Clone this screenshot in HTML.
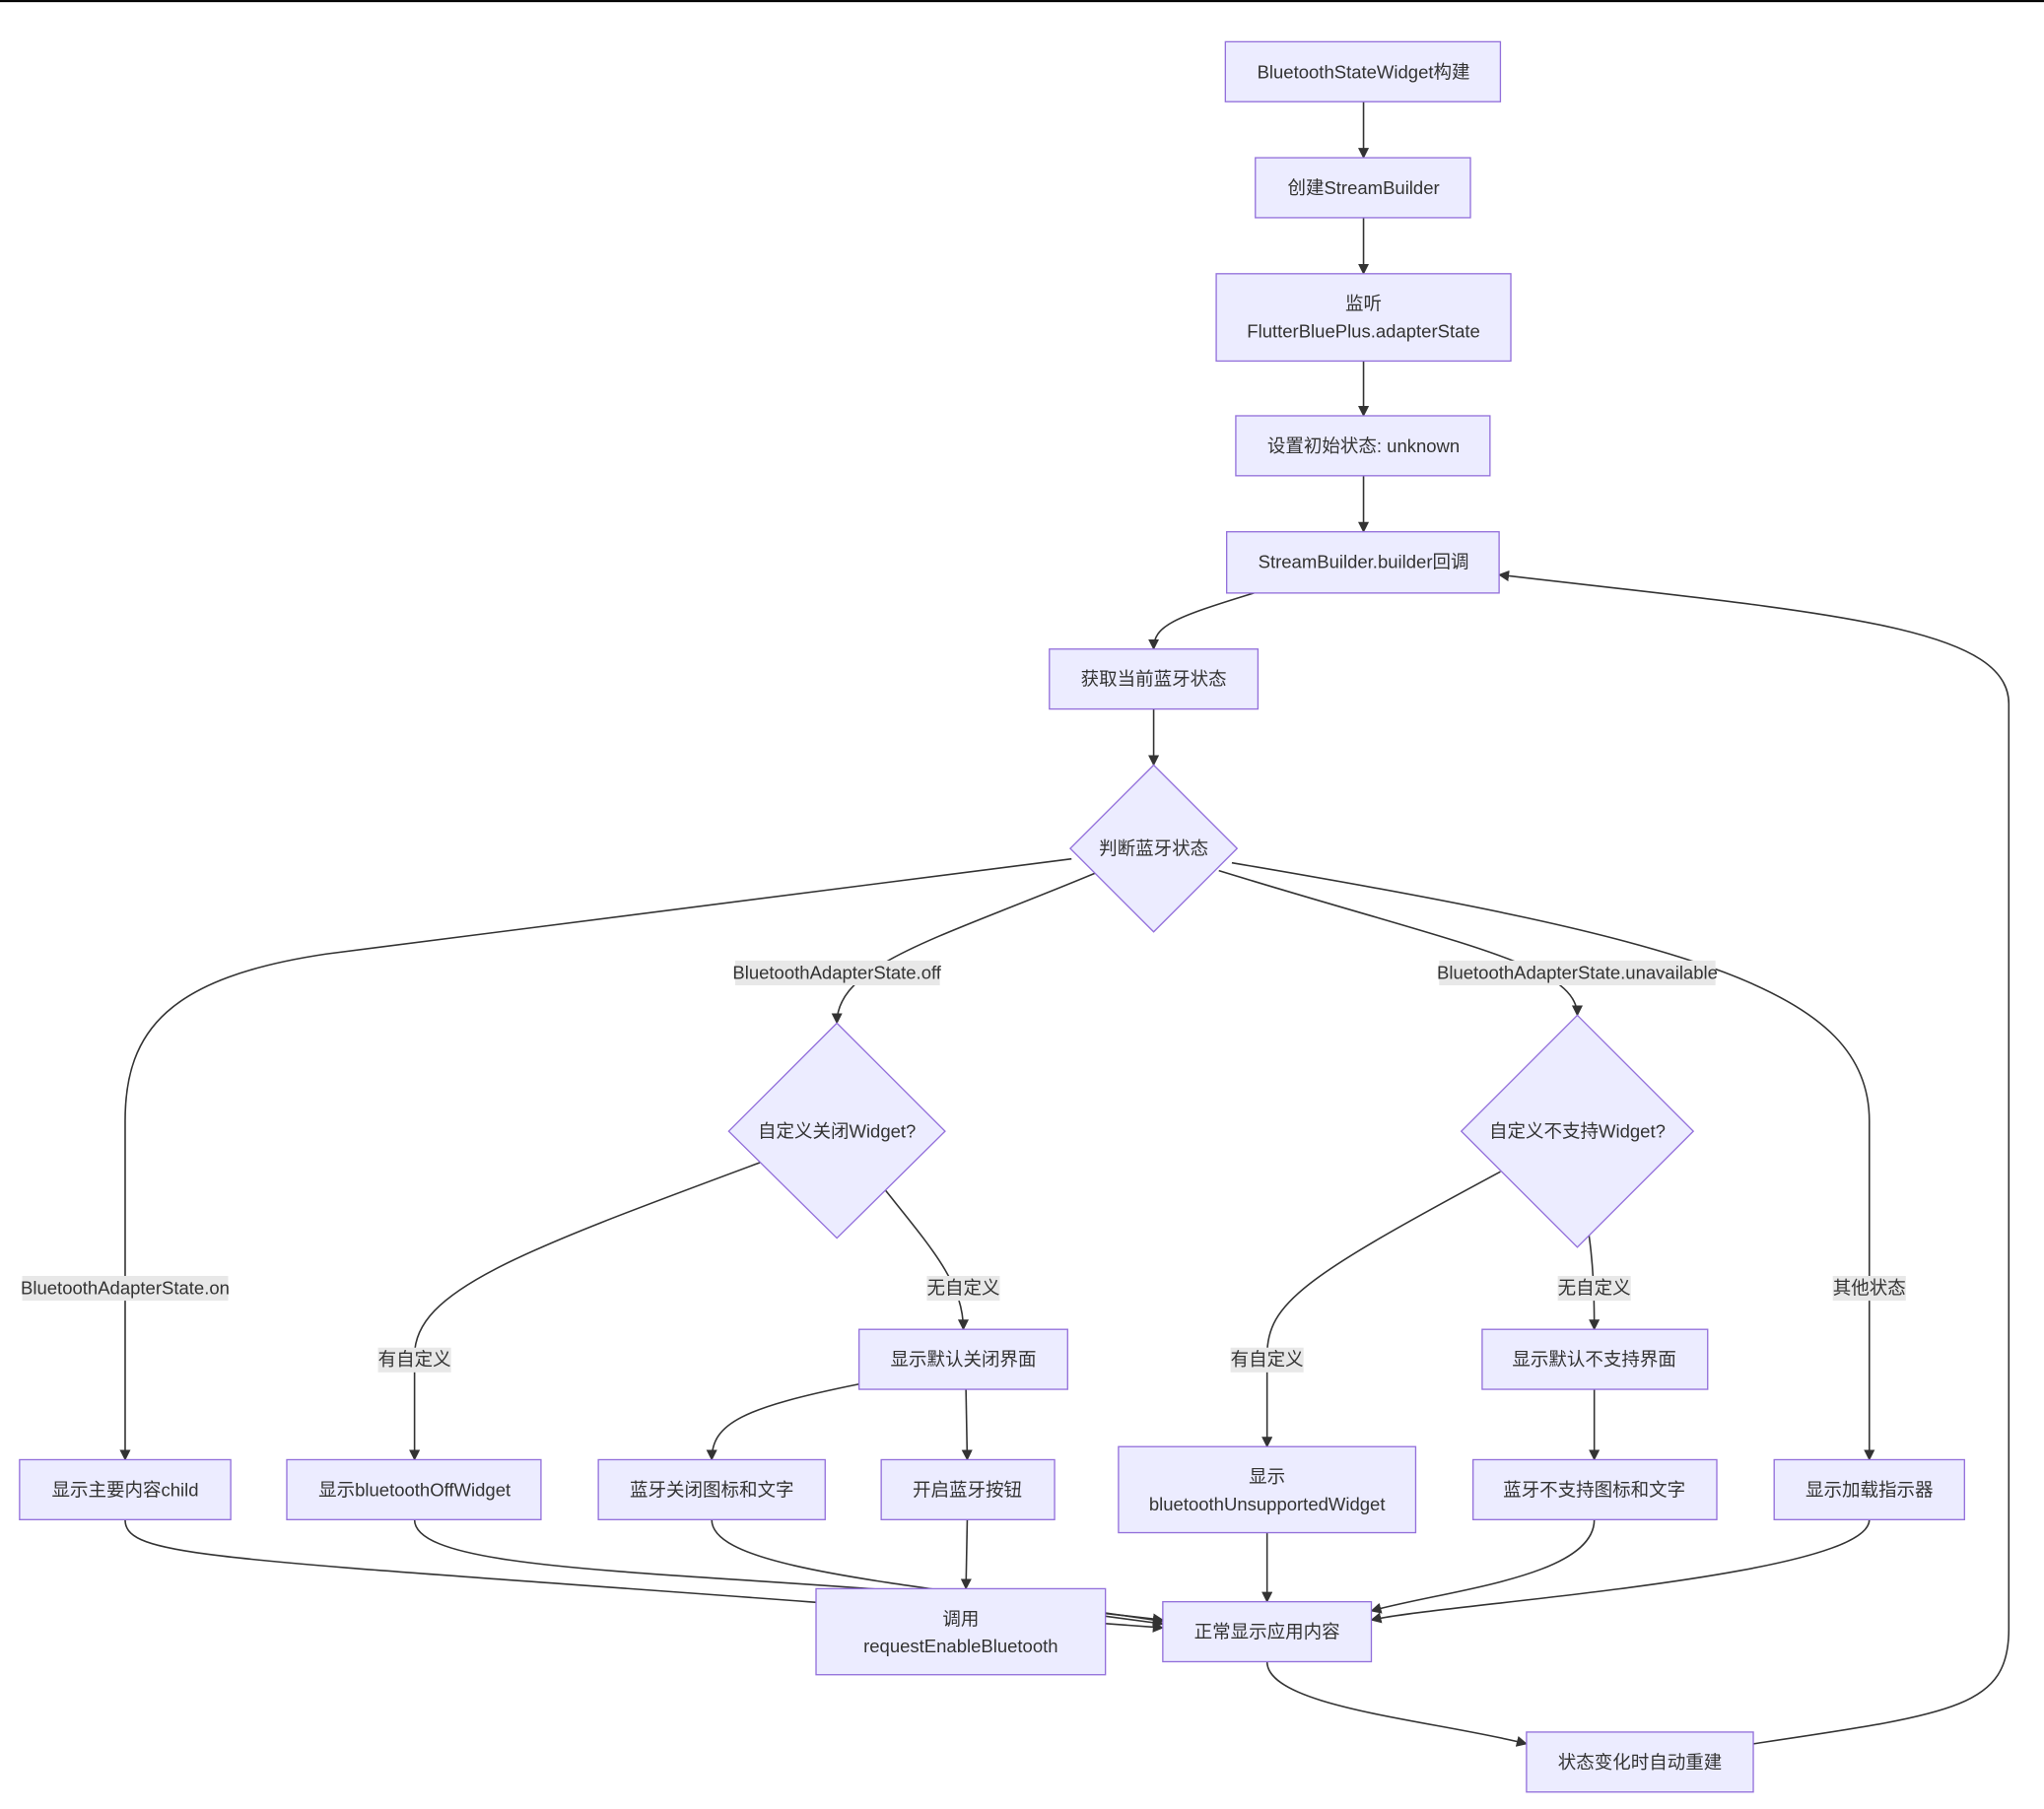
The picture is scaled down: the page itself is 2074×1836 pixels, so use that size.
<!DOCTYPE html>
<html><head><meta charset="utf-8"><style>
html,body{margin:0;padding:0;background:#fff;}
svg{display:block;}
text{font-family:"Liberation Sans","Noto Sans CJK SC",sans-serif;font-size:14px;fill:#333;text-anchor:middle;dominant-baseline:central;}
.n{fill:#ECECFF;stroke:#9370DB;stroke-width:1;}
.e{fill:none;stroke:#333;stroke-width:1.2;}
.lb{fill:#e8e8e8;}
</style></head><body>
<svg width="2074" height="1836" viewBox="0 0 1568 1388" xmlns="http://www.w3.org/2000/svg">
<defs><marker id="a" viewBox="0 0 10 10" refX="9" refY="5" markerWidth="7" markerHeight="7" orient="auto"><path d="M0,0L10,5L0,10z" fill="#333"/></marker></defs>
<rect x="0" y="0" width="1568" height="1.6" fill="#000"/>
<g class="e" marker-end="url(#a)">
<path class="e" d="M1046,78L1046,121" marker-end="url(#a)"/>
<path class="e" d="M1046,167L1046,210" marker-end="url(#a)"/>
<path class="e" d="M1046,277L1046,319" marker-end="url(#a)"/>
<path class="e" d="M1046,365L1046,408" marker-end="url(#a)"/>
<path class="e" d="M962,455C900,474 885,480 885,498" marker-end="url(#a)"/>
<path class="e" d="M885,544L885,587" marker-end="url(#a)"/>
<path class="e" d="M822,659L250,732C130,750 96,790 96,860L96,1120" marker-end="url(#a)"/>
<path class="e" d="M840,670C720,720 642,740 642,785" marker-end="url(#a)"/>
<path class="e" d="M935,668C1120,725 1210,740 1210,779" marker-end="url(#a)"/>
<path class="e" d="M945,662C1300,722 1434,760 1434,860L1434,1120" marker-end="url(#a)"/>
<path class="e" d="M583,892C400,960 318,990 318,1040L318,1120" marker-end="url(#a)"/>
<path class="e" d="M679,913C715,958 739,985 739,1020" marker-end="url(#a)"/>
<path class="e" d="M659,1062C570,1080 546,1092 546,1120" marker-end="url(#a)"/>
<path class="e" d="M741,1066L742,1120" marker-end="url(#a)"/>
<path class="e" d="M742,1166L741,1219" marker-end="url(#a)"/>
<path class="e" d="M1151,899C1000,980 972,1000 972,1040L972,1110" marker-end="url(#a)"/>
<path class="e" d="M1219,948C1222,970 1223,990 1223,1020" marker-end="url(#a)"/>
<path class="e" d="M1223,1066L1223,1120" marker-end="url(#a)"/>
<path class="e" d="M972,1176L972,1229" marker-end="url(#a)"/>
<path class="e" d="M96,1166C96,1195 160,1195 620,1229L892,1249" marker-end="url(#a)"/>
<path class="e" d="M318,1166C318,1205 500,1205 720,1223L892,1246" marker-end="url(#a)"/>
<path class="e" d="M546,1166C546,1205 700,1215 892,1244" marker-end="url(#a)"/>
<path class="e" d="M848,1238L892,1243" marker-end="url(#a)"/>
<path class="e" d="M1223,1166C1223,1210 1110,1220 1052,1236" marker-end="url(#a)"/>
<path class="e" d="M1434,1166C1434,1210 1110,1230 1052,1243" marker-end="url(#a)"/>
<path class="e" d="M972,1275C972,1310 1100,1320 1171,1338" marker-end="url(#a)"/>
<path class="e" d="M1345,1338C1500,1315 1541,1310 1541,1250L1541,540C1541,480 1400,470 1150,441" marker-end="url(#a)"/>
</g>
<rect class="lb" x="564" y="737" width="157" height="19"/><text x="642" y="746">BluetoothAdapterState.off</text>
<rect class="lb" x="1104" y="737" width="212" height="19"/><text x="1210" y="746">BluetoothAdapterState.unavailable</text>
<rect class="lb" x="17" y="979" width="158" height="19"/><text x="96" y="988">BluetoothAdapterState.on</text>
<rect class="lb" x="1406" y="979" width="56" height="19"/><text x="1434" y="988">其他状态</text>
<rect class="lb" x="290" y="1034" width="56" height="19"/><text x="318" y="1043">有自定义</text>
<rect class="lb" x="711" y="979" width="56" height="19"/><text x="739" y="988">无自定义</text>
<rect class="lb" x="944" y="1034" width="56" height="19"/><text x="972" y="1043">有自定义</text>
<rect class="lb" x="1195" y="979" width="56" height="19"/><text x="1223" y="988">无自定义</text>
<rect class="n" x="940" y="32" width="211" height="46"/><text x="1046" y="55">BluetoothStateWidget构建</text>
<rect class="n" x="963" y="121" width="165" height="46"/><text x="1046" y="144">创建StreamBuilder</text>
<rect class="n" x="933" y="210" width="226" height="67"/><text x="1046" y="233">监听</text><text x="1046" y="254">FlutterBluePlus.adapterState</text>
<rect class="n" x="948" y="319" width="195" height="46"/><text x="1046" y="342">设置初始状态: unknown</text>
<rect class="n" x="941" y="408" width="209" height="47"/><text x="1046" y="431">StreamBuilder.builder回调</text>
<rect class="n" x="805" y="498" width="160" height="46"/><text x="885" y="521">获取当前蓝牙状态</text>
<polygon class="n" points="885,587 949,651 885,715 821,651"/><text x="885" y="651">判断蓝牙状态</text>
<polygon class="n" points="642,785 725,868 642,950 559,868"/><text x="642" y="868">自定义关闭Widget?</text>
<polygon class="n" points="1210,779 1299,868 1210,957 1121,868"/><text x="1210" y="868">自定义不支持Widget?</text>
<rect class="n" x="15" y="1120" width="162" height="46"/><text x="96" y="1143">显示主要内容child</text>
<rect class="n" x="220" y="1120" width="195" height="46"/><text x="318" y="1143">显示bluetoothOffWidget</text>
<rect class="n" x="659" y="1020" width="160" height="46"/><text x="739" y="1043">显示默认关闭界面</text>
<rect class="n" x="459" y="1120" width="174" height="46"/><text x="546" y="1143">蓝牙关闭图标和文字</text>
<rect class="n" x="676" y="1120" width="133" height="46"/><text x="742" y="1143">开启蓝牙按钮</text>
<rect class="n" x="858" y="1110" width="228" height="66"/><text x="972" y="1133">显示</text><text x="972" y="1154">bluetoothUnsupportedWidget</text>
<rect class="n" x="1137" y="1020" width="173" height="46"/><text x="1223" y="1043">显示默认不支持界面</text>
<rect class="n" x="1130" y="1120" width="187" height="46"/><text x="1223" y="1143">蓝牙不支持图标和文字</text>
<rect class="n" x="1361" y="1120" width="146" height="46"/><text x="1434" y="1143">显示加载指示器</text>
<rect class="n" x="626" y="1219" width="222" height="66"/><text x="737" y="1242">调用</text><text x="737" y="1263">requestEnableBluetooth</text>
<rect class="n" x="892" y="1229" width="160" height="46"/><text x="972" y="1252">正常显示应用内容</text>
<rect class="n" x="1171" y="1329" width="174" height="46"/><text x="1258" y="1352">状态变化时自动重建</text>
</svg>
</body></html>
